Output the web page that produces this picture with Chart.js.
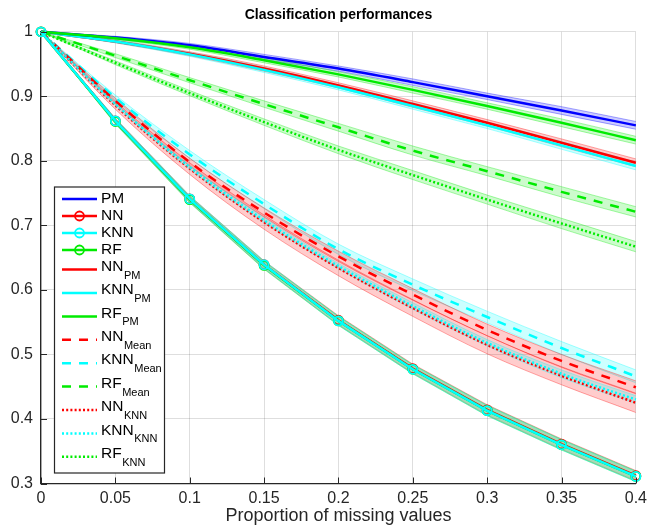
<!DOCTYPE html>
<html>
<head>
<meta charset="utf-8">
<script src="https://cdn.jsdelivr.net/npm/chart.js@4.4.0/dist/chart.umd.min.js"></script>
<style>
html,body{margin:0;padding:0;background:#fff;}
#wrap{width:652px;height:527px;position:relative;}
</style>
</head>
<body>
<div id="wrap"><canvas id="c" width="652" height="527"></canvas></div>
<script>
// ---------- data ----------
const proportions = [0, 0.05, 0.1, 0.15, 0.2, 0.25, 0.3, 0.35, 0.4];
const xTickLabels = ['0', '0.05', '0.1', '0.15', '0.2', '0.25', '0.3', '0.35', '0.4'];
const yTickLabels = ['0.3', '0.4', '0.5', '0.6', '0.7', '0.8', '0.9', '1'];

const pm      = [1, 0.991, 0.979, 0.961, 0.943, 0.922, 0.900, 0.878, 0.855];
const nn      = [1, 0.862, 0.741, 0.639, 0.553, 0.478, 0.414, 0.361, 0.312];
const knn     = [1, 0.862, 0.741, 0.639, 0.552, 0.477, 0.413, 0.360, 0.311];
const rf      = [1, 0.861, 0.740, 0.638, 0.552, 0.477, 0.413, 0.360, 0.311];
const nnPm    = [1, 0.985, 0.966, 0.943, 0.917, 0.888, 0.859, 0.828, 0.797];
const knnPm   = [1, 0.985, 0.965, 0.941, 0.914, 0.885, 0.855, 0.824, 0.792];
const rfPm    = [1, 0.990, 0.976, 0.956, 0.934, 0.910, 0.885, 0.859, 0.832];
const nnMean  = [1, 0.893, 0.798, 0.720, 0.652, 0.593, 0.538, 0.490, 0.449];
const knnMean = [1, 0.898, 0.810, 0.733, 0.663, 0.608, 0.558, 0.510, 0.466];
const rfMean  = [1, 0.963, 0.925, 0.888, 0.852, 0.816, 0.784, 0.752, 0.721];
const nnKnn   = [1, 0.886, 0.788, 0.705, 0.634, 0.572, 0.515, 0.467, 0.425];
const knnKnn  = [1, 0.888, 0.790, 0.708, 0.637, 0.575, 0.518, 0.470, 0.430];
const rfKnn   = [1, 0.952, 0.905, 0.860, 0.817, 0.778, 0.740, 0.703, 0.667];

// half-widths of the shaded bands
const spreadSmall  = [0, 0.002, 0.003, 0.004, 0.004, 0.005, 0.005, 0.006, 0.006];
const spreadMid    = [0, 0.003, 0.004, 0.005, 0.006, 0.007, 0.007, 0.008, 0.008];
const spreadMarker = [0, 0.004, 0.005, 0.006, 0.007, 0.007, 0.008, 0.008, 0.008];
const spreadMean   = [0, 0.004, 0.006, 0.007, 0.008, 0.009, 0.009, 0.010, 0.010];
const spreadWide   = [0, 0.006, 0.009, 0.011, 0.012, 0.013, 0.014, 0.014, 0.015];

// ---------- styling ----------
const BLUE = [0, 0, 255], RED = [255, 0, 0], CYAN = [0, 255, 255], GREEN = [0, 235, 0];
const rgba = (c, a) => `rgba(${c[0]},${c[1]},${c[2]},${a})`;
const FONT = '"Liberation Sans", Arial, Helvetica, sans-serif';
const DASH = { solid: [], dash: [9, 8], dot: [2, 2.2] };

// legend order = list order; z = drawing priority (lower drawn on top)
const seriesDefs = [
  { main: 'PM',  sub: '',     values: pm,      spread: spreadSmall,  color: BLUE,  style: 'solid', marker: false, z: 10 },
  { main: 'NN',  sub: '',     values: nn,      spread: spreadMarker, color: RED,   style: 'solid', marker: true,  z: 3 },
  { main: 'KNN', sub: '',     values: knn,     spread: spreadMarker, color: CYAN,  style: 'solid', marker: true,  z: 1 },
  { main: 'RF',  sub: '',     values: rf,      spread: spreadMarker, color: GREEN, style: 'solid', marker: true,  z: 2 },
  { main: 'NN',  sub: 'PM',   values: nnPm,    spread: spreadSmall,  color: RED,   style: 'solid', marker: false, z: 12 },
  { main: 'KNN', sub: 'PM',   values: knnPm,   spread: spreadSmall,  color: CYAN,  style: 'solid', marker: false, z: 11 },
  { main: 'RF',  sub: 'PM',   values: rfPm,    spread: spreadSmall,  color: GREEN, style: 'solid', marker: false, z: 9 },
  { main: 'NN',  sub: 'Mean', values: nnMean,  spread: spreadMean,   color: RED,   style: 'dash',  marker: false, z: 6 },
  { main: 'KNN', sub: 'Mean', values: knnMean, spread: spreadMean,   color: CYAN,  style: 'dash',  marker: false, z: 7 },
  { main: 'RF',  sub: 'Mean', values: rfMean,  spread: spreadMid,    color: GREEN, style: 'dash',  marker: false, z: 8 },
  { main: 'NN',  sub: 'KNN',  values: nnKnn,   spread: spreadWide,   color: RED,   style: 'dot',   marker: false, z: 5 },
  { main: 'KNN', sub: 'KNN',  values: knnKnn,  spread: spreadSmall,  color: CYAN,  style: 'dot',   marker: false, z: 4 },
  { main: 'RF',  sub: 'KNN',  values: rfKnn,   spread: spreadMid,    color: GREEN, style: 'dot',   marker: false, z: 13 }
];

const pts = arr => arr.map((v, i) => ({ x: proportions[i], y: v }));

const datasets = [];
seriesDefs.forEach((s) => {
  const interp = s.marker ? { tension: 0 } : { cubicInterpolationMode: 'monotone' };
  datasets.push(Object.assign({
    label: '_lo', data: pts(s.values.map((v, i) => v - s.spread[i])),
    borderColor: rgba(s.color, 0.35), borderWidth: 1, pointRadius: 0, fill: false,
    order: 100 + s.z * 2
  }, interp));
  datasets.push(Object.assign({
    label: '_hi', data: pts(s.values.map((v, i) => v + s.spread[i])),
    borderColor: rgba(s.color, 0.35), borderWidth: 1, pointRadius: 0,
    fill: '-1', backgroundColor: rgba(s.color, 0.2),
    order: 100 + s.z * 2 - 1
  }, interp));
  const line = Object.assign({
    label: s.main + s.sub, data: pts(s.values),
    borderColor: rgba(s.color, 1), borderWidth: 2.5, borderDash: DASH[s.style],
    pointRadius: s.marker ? 4.5 : 0, pointStyle: 'circle',
    pointBorderColor: rgba(s.color, 1), pointBackgroundColor: 'rgba(0,0,0,0)', pointBorderWidth: 1.8,
    fill: false, clip: false, order: s.z
  }, interp);
  s.dataset = line;
  datasets.push(line);
});

// ---------- plugins ----------
const inwardTicks = {
  id: 'inwardTicks',
  afterDatasetsDraw(chart) {
    const { ctx, chartArea: a, scales: { x, y } } = chart;
    ctx.save();
    ctx.strokeStyle = '#262626';
    ctx.lineWidth = 1;
    ctx.beginPath();
    x.ticks.forEach(t => { const px = Math.round(x.getPixelForValue(t.value)) + 0.5; ctx.moveTo(px, a.bottom); ctx.lineTo(px, a.bottom - 6); });
    y.ticks.forEach(t => { const py = Math.round(y.getPixelForValue(t.value)) + 0.5; ctx.moveTo(a.left, py); ctx.lineTo(a.left + 6, py); });
    ctx.stroke();
    ctx.restore();
  }
};

const subLegend = {
  id: 'subLegend',
  afterDraw(chart) {
    const { ctx, chartArea: a } = chart;
    const box = { x: a.left + 13.5, y: 187, w: 110, h: 286 };
    const rowY = [199, 216, 233, 250, 269.5, 293, 316.4, 339.8, 363.2, 386.6, 410, 433.4, 456.8];
    ctx.save();
    ctx.fillStyle = '#fff';
    ctx.fillRect(box.x, box.y, box.w, box.h);
    ctx.strokeStyle = '#262626';
    ctx.lineWidth = 1.2;
    ctx.strokeRect(box.x, box.y, box.w, box.h);
    const x0 = box.x + 7.5, x1 = box.x + 42.5, tx = box.x + 46.5;
    seriesDefs.forEach((s, i) => {
      const ds = s.dataset;
      const ly = rowY[i];
      ctx.save();
      ctx.strokeStyle = ds.borderColor;
      ctx.lineWidth = ds.borderWidth;
      ctx.setLineDash(ds.borderDash);
      ctx.beginPath(); ctx.moveTo(x0, ly); ctx.lineTo(x1, ly); ctx.stroke();
      ctx.setLineDash([]);
      if (s.marker) {
        ctx.lineWidth = ds.pointBorderWidth;
        ctx.beginPath(); ctx.arc((x0 + x1) / 2, ly, ds.pointRadius, 0, Math.PI * 2); ctx.stroke();
      }
      ctx.restore();
      ctx.fillStyle = '#000';
      ctx.textBaseline = 'middle';
      ctx.textAlign = 'left';
      ctx.font = '15.5px ' + FONT;
      const my = s.sub ? ly - 3 : ly;
      ctx.fillText(s.main, tx, my);
      if (s.sub) {
        const w = ctx.measureText(s.main).width;
        ctx.font = '11px ' + FONT;
        ctx.fillText(s.sub, tx + w + 0.5, my + 9);
      }
    });
    ctx.restore();
  }
};

// ---------- chart ----------
Chart.defaults.font.family = FONT;
new Chart(document.getElementById('c'), {
  type: 'line',
  data: { datasets },
  options: {
    responsive: false,
    animation: false,
    layout: { padding: { top: 1, right: 12, bottom: 0, left: 0 } },
    plugins: {
      legend: { display: false },
      tooltip: { enabled: false },
      title: {
        display: true, text: 'Classification performances', color: '#000',
        font: { size: 14, weight: 'bold' }, fullSize: false,
        padding: { top: 6, bottom: 8 }
      }
    },
    scales: {
      x: {
        type: 'linear', min: 0, max: 0.4,
        afterBuildTicks: s => { s.ticks = xTickLabels.map(t => ({ value: parseFloat(t) })); },
        afterFit: s => { s.height = 43.5; },
        ticks: { callback: (v, i) => xTickLabels[i], color: '#262626', font: { size: 16 }, padding: 5, maxRotation: 0, autoSkip: false },
        grid: { color: 'rgba(0,0,0,0.13)', drawTicks: false, lineWidth: 1 },
        border: { color: '#262626', width: 1.3 },
        title: { display: true, text: 'Proportion of missing values', color: '#262626', font: { size: 18 }, padding: { top: 0, bottom: 0 } }
      },
      y: {
        type: 'linear', min: 0.3, max: 1,
        afterBuildTicks: s => { s.ticks = yTickLabels.map(t => ({ value: parseFloat(t) })); },
        afterFit: s => { s.width = 41; },
        ticks: { callback: (v, i) => yTickLabels[i], color: '#262626', font: { size: 16 }, padding: 8 },
        grid: { color: 'rgba(0,0,0,0.13)', drawTicks: false, lineWidth: 1 },
        border: { color: '#262626', width: 1.3 }
      }
    }
  },
  plugins: [inwardTicks, subLegend]
});
</script>
</body>
</html>
